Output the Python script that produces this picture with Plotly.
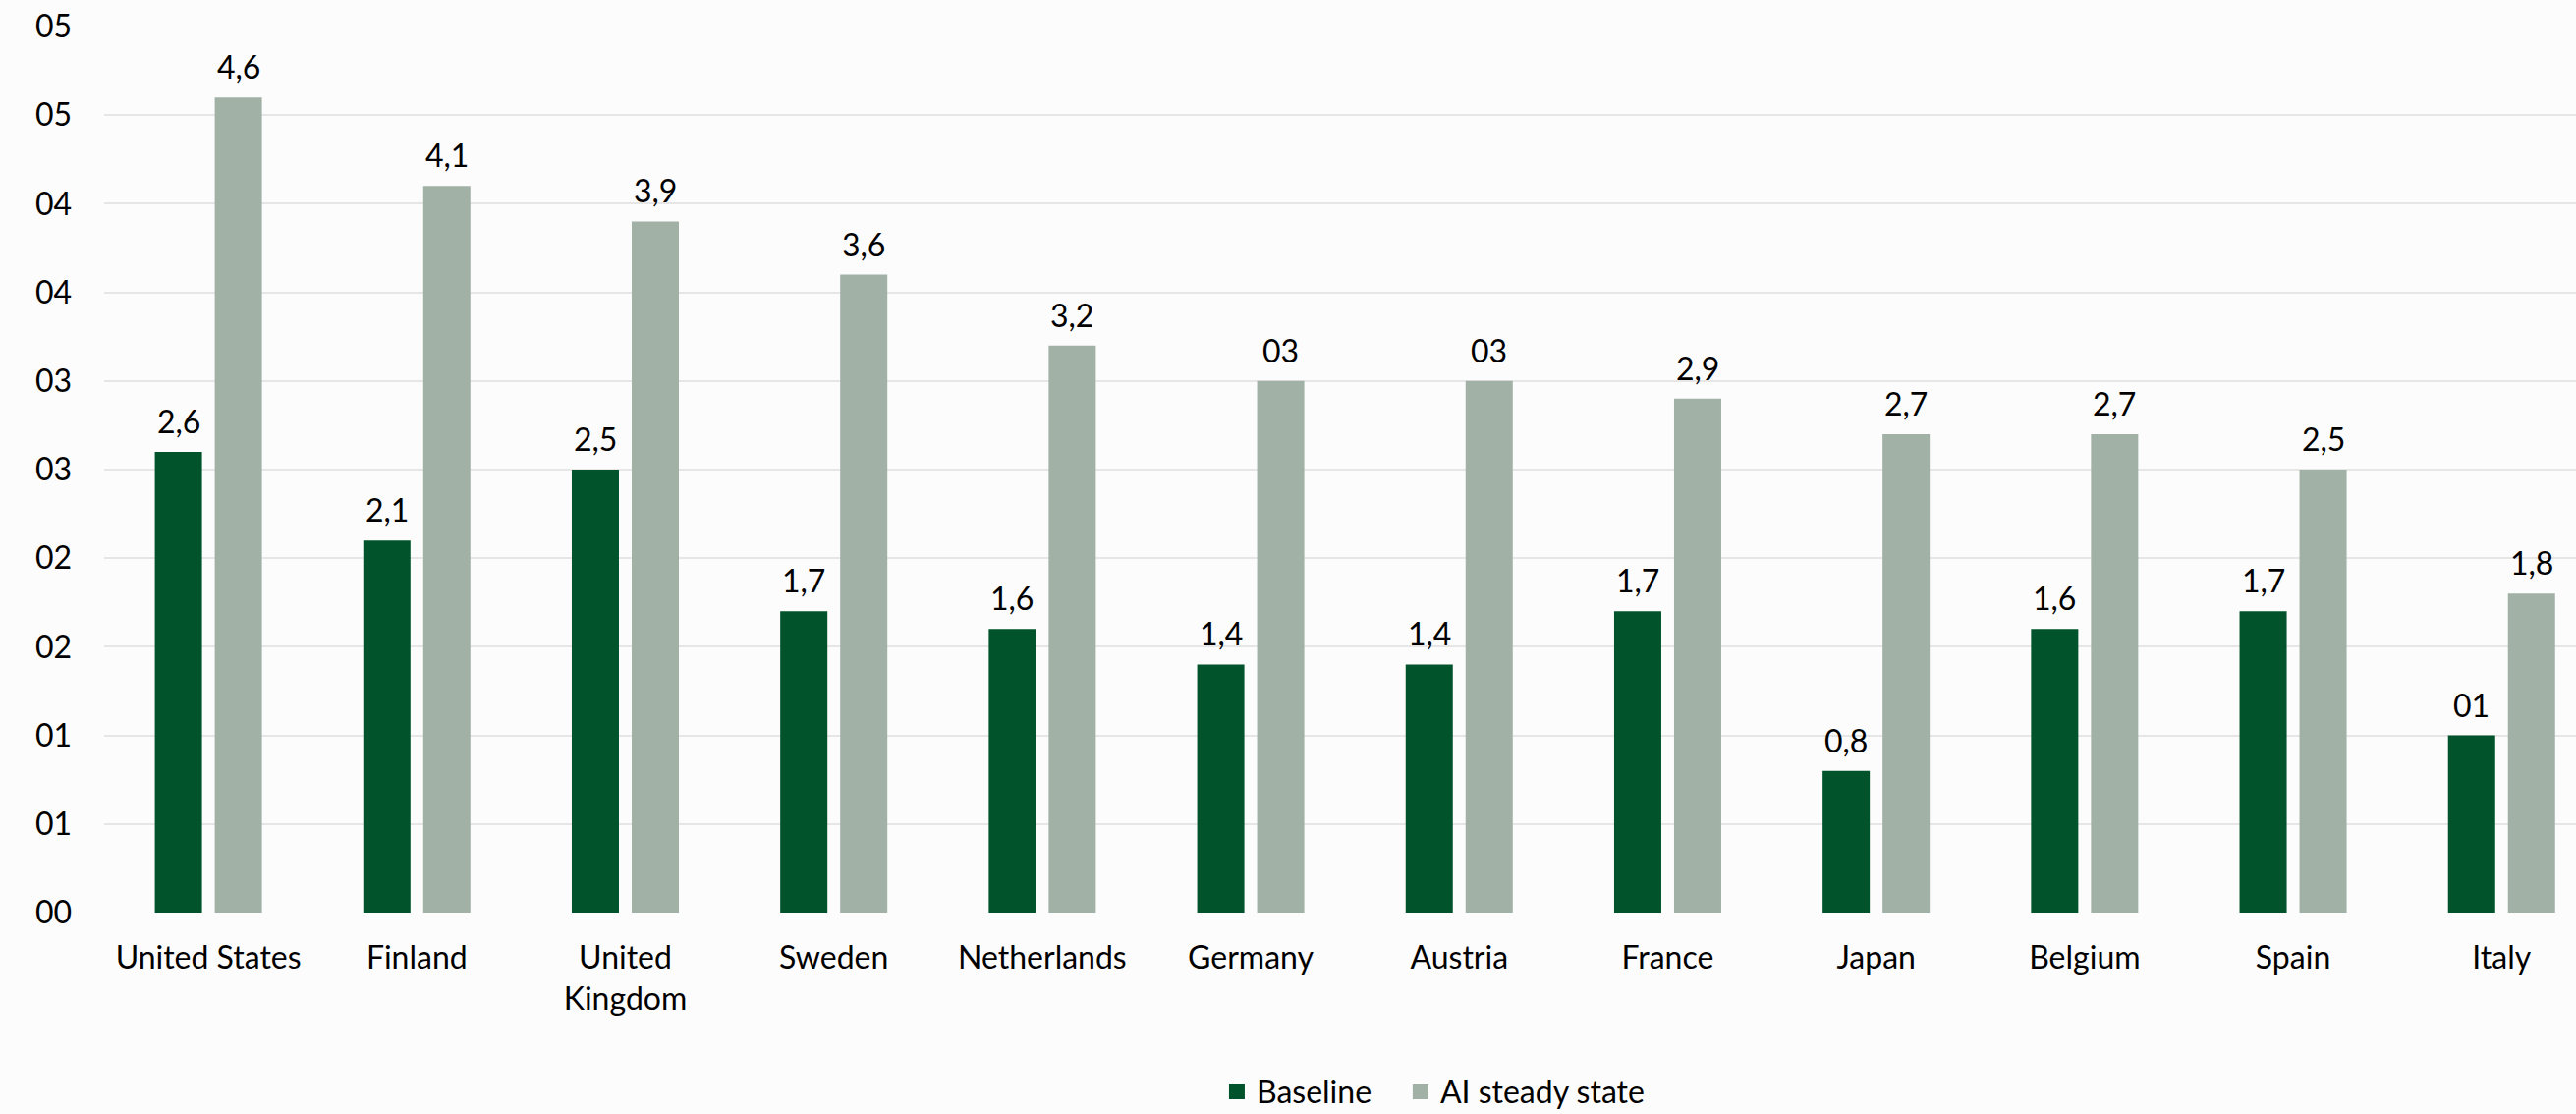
import plotly.graph_objects as go

countries = ["United States", "Finland", "United<br>Kingdom", "Sweden", "Netherlands",
             "Germany", "Austria", "France", "Japan", "Belgium", "Spain", "Italy"]
baseline = [2.6, 2.1, 2.5, 1.7, 1.6, 1.4, 1.4, 1.7, 0.8, 1.6, 1.7, 1.0]
ai_steady = [4.6, 4.1, 3.9, 3.6, 3.2, 3.0, 3.0, 2.9, 2.7, 2.7, 2.5, 1.8]
y_ticks = [0, 0.5, 1.0, 1.5, 2.0, 2.5, 3.0, 3.5, 4.0, 4.5, 5.0]

DARK = "#01532B"
GREY = "#A2B1A6"
FONT = "Lato"
FS = 32

BARGAP = 0.425
GROUPGAP = 0.213
SLOT = (1 - BARGAP) / 2  # width of each series slot inside a category


def value_label(v):
    # whole numbers come out as "0N", the rest with a decimal comma
    if abs(v - round(v)) < 1e-9:
        return "0" + str(int(round(v)))
    return f"{v:.1f}".replace(".", ",")


def tick_label(v):
    return "0" + str(int(v + 0.5))


x = list(range(len(countries)))

fig = go.Figure()
series = [("Baseline", baseline, DARK, -SLOT / 2, "legend"),
          ("AI steady state", ai_steady, GREY, SLOT / 2, "legend2")]
for name, vals, col, shift, leg in series:
    fig.add_trace(go.Bar(
        x=x, y=vals, name=name, marker=dict(color=col, line=dict(width=0)),
        showlegend=False, hoverinfo="x+y",
    ))
    # legend entry with a square swatch
    fig.add_trace(go.Scatter(
        x=[None], y=[None], mode="markers", name=name, legend=leg,
        marker=dict(symbol="square", size=20, color=col),
    ))
    # value labels sitting above each bar
    for xi, v in zip(x, vals):
        fig.add_annotation(
            x=xi + shift, y=v, text=value_label(v), showarrow=False,
            xanchor="center", yanchor="bottom", yshift=10,
            font=dict(family=FONT, size=FS, color="#000000"),
        )

legend_style = dict(orientation="h", xanchor="left", y=-0.202, yanchor="middle",
                    font=dict(family=FONT, size=FS), bgcolor="rgba(0,0,0,0)")

fig.update_layout(
    width=2622, height=1134,
    margin=dict(l=106, r=0, t=27, b=205, autoexpand=False),
    paper_bgcolor="#FCFCFC", plot_bgcolor="#FCFCFC",
    barmode="group", bargap=BARGAP, bargroupgap=GROUPGAP,
    font=dict(family=FONT, size=FS, color="#000000"),
    legend=dict(x=0.4503, **legend_style),
    legend2=dict(x=0.5246, **legend_style),
)
fig.update_xaxes(
    tickmode="array", tickvals=x, ticktext=countries,
    range=[-0.5, 11.357], showgrid=False, zeroline=False, showline=False,
    ticks="", ticklabelstandoff=24, automargin=False,
    tickfont=dict(family=FONT, size=FS),
)
fig.update_yaxes(
    range=[0, 5], tickmode="array", tickvals=y_ticks,
    ticktext=[tick_label(v) for v in y_ticks],
    showgrid=True, gridcolor="#E6E6E6", gridwidth=2, zeroline=False,
    showline=False, ticks="", ticklabelstandoff=32, automargin=False,
    tickfont=dict(family=FONT, size=FS),
)

fig.write_html("out.html")
